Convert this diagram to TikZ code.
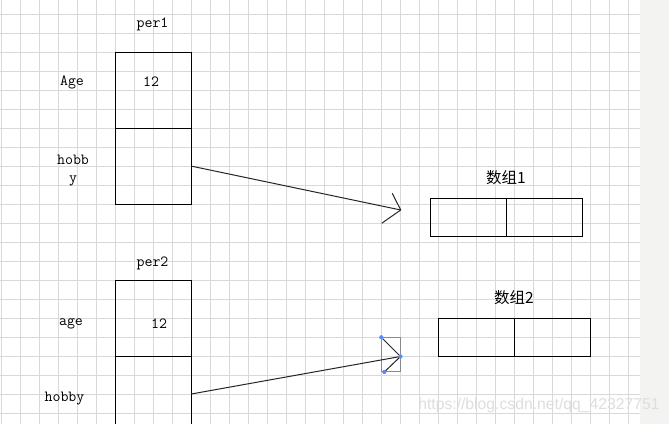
\documentclass[tikz,border=0pt]{standalone}
\usepackage{fontspec}
\newfontfamily\cjkfont{Noto Sans CJK SC}
\newfontfamily\wmfont{Liberation Sans}
\definecolor{gridc}{HTML}{D9D9D9}
\definecolor{sidec}{HTML}{F3F3F1}
\definecolor{wmc}{HTML}{DEDEDE}
\definecolor{selc}{HTML}{5B8DEF}
\definecolor{selbox}{HTML}{8A8A8A}
\tikzset{
  gridline/.style={draw=gridc, line width=0.75pt},
  cell/.style={draw=black, line width=0.75pt, rectangle, inner sep=0pt, minimum width=57pt, minimum height=57pt},
  acell/.style={draw=black, line width=0.75pt, rectangle, inner sep=0pt, minimum width=57pt, minimum height=28.5pt},
  lbl/.style={inner sep=0pt, font=\fontsize{11.6pt}{13.5pt}\selectfont\ttfamily},
  clbl/.style={inner sep=0pt, font=\fontsize{11.6pt}{14pt}\selectfont\cjkfont},
  conn/.style={draw=black!85, line width=0.75pt},
  seldot/.style={fill=selc, draw=none}
}
\begin{document}
\begin{tikzpicture}[x=0.75pt, y=-0.75pt]
\clip (0,0) rectangle (669,424);
\useasboundingbox (0,0) rectangle (669,424);
\fill[white] (0,0) rectangle (640,424);
\fill[sidec] (640,0) rectangle (669,424);
\foreach \i in {0,...,33} \draw[gridline] ({1.7+19*\i},0) -- ({1.7+19*\i},424);
\foreach \j in {0,...,21} \draw[gridline] (0,{14.3+19*\j}) -- (640,{14.3+19*\j});

% per1
\node[lbl] (per1) at (152.5,24) {per1};
\node[cell] (p1a) at (153.7,90.3) {};
\node[cell] (p1h) at (153.7,166.3) {};
\node[lbl] (v1) at (151,81.5) {12};
\node[lbl, anchor=base] (l1a) at (72,85.5) {Age};
\node[lbl, align=center] (l1h) at (73,170.5) {hobb\\y};

% per2
\node[lbl] (per2) at (152.5,263) {per2};
\node[cell] (p2a) at (153.3,318.3) {};
\node[cell] (p2h) at (153.3,394.3) {};
\node[lbl] (v2) at (159,323.5) {12};
\node[lbl, anchor=base] (l2a) at (71,326) {age};
\node[lbl, anchor=base] (l2h) at (64.5,402) {hobby};

% arrays
\node[clbl] (n1) at (506,178) {数组1};
\node[acell] (a1l) at (468.3,217.3) {};
\node[acell] (a1r) at (544.3,217.3) {};
\node[clbl] (n2) at (514,298) {数组2};
\node[acell] (a2l) at (476.3,337.3) {};
\node[acell] (a2r) at (552.3,337.3) {};

% arrow 1
\coordinate (t1) at (400.7,210);
\coordinate (w1a) at (392.3,193.3);
\coordinate (w1b) at (381.7,223.3);
\draw[conn] (p1h.east) -- (t1);
\draw[conn] (w1a) -- (t1) -- (w1b);

% arrow 2 (selected)
\coordinate (s2) at (191.3,394);
\coordinate (t2) at (400.5,356.5);
\coordinate (w2a) at (381.3,337.3);
\coordinate (w2b) at (384.3,372);
\draw[selbox, line width=0.75pt] (381.3,337.3) rectangle (400.5,372);
\draw[conn] (s2) -- (t2);
\draw[conn] (w2a) -- (t2) -- (w2b);
\fill[seldot] (w2a) circle (1.6pt);
\fill[seldot] (t2) circle (1.6pt);
\fill[seldot] (w2b) circle (1.6pt);

% watermark
\node[inner sep=0pt, anchor=west, text=wmc, font=\fontsize{11.8pt}{14pt}\selectfont\wmfont] (wm) at (418,405) {https://blog.csdn.net/qq\_42327751};
\end{tikzpicture}
\end{document}
